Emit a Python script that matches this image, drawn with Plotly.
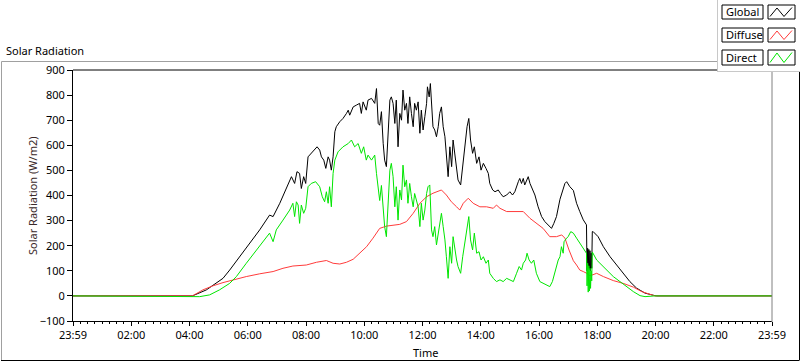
import plotly.graph_objects as go

# ---------------- data (hours of day, W/m2) ----------------
global_t = [0, 4.10, 4.58, 5.15, 5.38, 5.95, 6.41, 6.75, 6.87, 7.10, 7.33, 7.50, 7.61, 7.69, 7.78, 7.84,
            7.92, 7.99, 8.07, 8.18, 8.30, 8.38, 8.47, 8.53, 8.61, 8.68, 8.76, 8.81, 8.87, 8.93, 8.99,
            9.04, 9.16, 9.27, 9.39, 9.45, 9.50, 9.62, 9.73, 9.84, 9.90, 9.96, 10.07, 10.13, 10.25,
            10.36, 10.42, 10.48, 10.53, 10.59, 10.65, 10.70, 10.76, 10.82, 10.88, 10.93, 10.99,
            11.05, 11.10, 11.16, 11.22, 11.28, 11.33, 11.39, 11.45, 11.50, 11.56, 11.62, 11.68,
            11.73, 11.79, 11.85, 11.91, 11.96, 12.02, 12.08, 12.14, 12.17, 12.23, 12.27, 12.31,
            12.36, 12.42, 12.48, 12.54, 12.59, 12.65, 12.71, 12.77, 12.82, 12.88, 12.94, 13.00,
            13.05, 13.11, 13.17, 13.22, 13.31, 13.38, 13.45, 13.53, 13.59, 13.65, 13.72, 13.78,
            13.86, 13.94, 14.01, 14.09, 14.18, 14.26, 14.31, 14.41, 14.49, 14.60, 14.68, 14.77,
            14.89, 15.00, 15.09, 15.17, 15.29, 15.34, 15.40, 15.46, 15.51, 15.57, 15.63, 15.69,
            15.78, 15.86, 15.97, 16.09, 16.20, 16.32, 16.43, 16.51, 16.60, 16.72, 16.81, 16.89,
            16.95, 17.06, 17.18, 17.29, 17.40, 17.52, 17.63, 17.65, 17.67, 17.69, 17.71, 17.73,
            17.75, 17.77, 17.79, 17.81, 17.83, 17.86, 18.03, 18.21, 18.44, 18.67, 18.89, 19.12,
            19.35, 19.64, 19.98, 20.05, 24]
global_v = [0, 0, 24, 70, 103, 190, 263, 322, 316, 369, 428, 475, 448, 495, 488, 428,
            475, 448, 554, 568, 581, 594, 581, 554, 541, 508, 554, 541, 501, 554, 654,
            674, 694, 707, 727, 740, 720, 753, 760, 767, 727, 773, 740, 780, 787,
            767, 826, 687, 680, 734, 608, 541, 515, 674, 780, 793, 767,
            687, 780, 594, 727, 700, 820, 740, 767, 687, 793, 727, 674,
            767, 740, 773, 648, 740, 661, 714, 767, 833, 793, 846, 767,
            674, 661, 634, 674, 727, 753, 674, 634, 541, 475, 594, 515,
            621, 568, 501, 462, 442, 515, 594, 674, 707, 621, 568, 594,
            528, 554, 501, 528, 508, 488, 448, 422, 415, 422, 408, 395,
            402, 415, 402, 415, 455, 468, 448, 468, 442, 462, 475, 448,
            422, 402, 355, 316, 296, 283, 269, 289, 316, 385, 422, 448,
            455, 435, 420, 369, 336, 303, 283, 100, 190, 110, 185, 105,
            180, 100, 170, 110, 256, 256, 236, 196, 156, 123, 90, 57,
            31, 11, 1, 0, 0]

diffuse_t = [0, 4.10, 4.46, 4.80, 5.15, 5.49, 5.95, 6.41, 6.87, 7.21, 7.55, 8.01, 8.36, 8.70, 8.93,
             9.16, 9.39, 9.62, 9.84, 10.08, 10.30, 10.53, 10.76, 10.99, 11.22, 11.45, 11.68, 11.91,
             12.14, 12.36, 12.65, 12.82, 12.99, 13.17, 13.28, 13.40, 13.57, 13.74, 13.97, 14.20,
             14.43, 14.54, 14.66, 14.89, 15.23, 15.46, 15.69, 15.92, 16.14, 16.37, 16.60, 16.78,
             16.89, 17.03, 17.18, 17.29, 17.40, 17.52, 17.64, 17.75, 17.86, 17.98, 18.21, 18.55,
             18.89, 19.24, 19.53, 19.75, 19.98, 24]
diffuse_v = [0, 0, 24, 40, 53, 64, 77, 88, 97, 110, 119, 123, 134, 141, 130,
             127, 134, 146, 170, 196, 230, 269, 278, 283, 285, 296, 329, 369,
             395, 409, 422, 402, 375, 355, 342, 369, 389, 369, 355, 355,
             349, 362, 349, 336, 336, 336, 309, 289, 269, 236, 236, 243,
             230, 183, 140, 123, 103, 97, 90, 80, 84, 90, 77, 61,
             50, 35, 17, 8, 0, 0]

direct_t = [0, 4.10, 4.35, 4.69, 5.03, 5.38, 5.61, 5.95, 6.30, 6.64, 6.75, 6.87, 6.98, 7.21, 7.44,
            7.55, 7.61, 7.67, 7.73, 7.78, 7.84, 7.92, 7.99, 8.07, 8.18, 8.33, 8.41, 8.47, 8.56,
            8.64, 8.70, 8.76, 8.81, 8.87, 8.93, 8.99, 9.10, 9.27, 9.45, 9.56, 9.67, 9.79, 9.90,
            9.98, 10.07, 10.13, 10.25, 10.36, 10.42, 10.48, 10.53, 10.59, 10.65, 10.70, 10.76,
            10.82, 10.88, 10.93, 10.99, 11.05, 11.10, 11.16, 11.22, 11.28, 11.33, 11.39, 11.45,
            11.50, 11.56, 11.62, 11.68, 11.73, 11.79, 11.85, 11.91, 11.96, 12.02, 12.08, 12.14,
            12.19, 12.25, 12.31, 12.36, 12.42, 12.48, 12.54, 12.59, 12.65, 12.71, 12.77, 12.82,
            12.88, 12.94, 13.00, 13.05, 13.11, 13.17, 13.22, 13.31, 13.38, 13.45, 13.53, 13.59,
            13.65, 13.72, 13.78, 13.86, 13.94, 14.01, 14.09, 14.18, 14.26, 14.31, 14.43, 14.54,
            14.66, 14.77, 14.89, 15.00, 15.12, 15.23, 15.32, 15.40, 15.46, 15.54, 15.59, 15.66,
            15.74, 15.82, 15.91, 16.03, 16.14, 16.26, 16.37, 16.46, 16.54, 16.66, 16.72, 16.77,
            16.83, 16.86, 16.95, 17.00, 17.09, 17.18, 17.29, 17.46, 17.60, 17.63, 17.65, 17.67,
            17.69, 17.71, 17.73, 17.75, 17.77, 17.79, 17.81, 17.83, 17.98, 18.15, 18.32, 18.55,
            18.78, 19.01, 19.24, 19.47, 19.64, 19.98, 24]
direct_v = [0, 0, -3, 4, 24, 50, 77, 130, 183, 230, 250, 216, 263, 302, 342,
            369, 316, 375, 362, 289, 362, 329, 349, 435, 448, 455, 442, 435, 395,
            375, 415, 369, 435, 355, 488, 541, 574, 594, 607, 621, 594, 607, 568,
            594, 541, 561, 541, 561, 488, 435, 380, 440, 342, 276, 236,
            382, 501, 528, 475, 355, 435, 302, 422, 382, 521, 435, 462,
            369, 448, 395, 355, 408, 382, 355, 276, 369, 302, 342, 408,
            435, 442, 263, 236, 276, 203, 250, 302, 329, 276, 223, 156,
            70, 196, 130, 236, 183, 143, 117, 90, 156, 210, 263, 316,
            223, 183, 250, 170, 176, 143, 156, 130, 143, 90, 70, 57,
            64, 57, 70, 64, 57, 90, 117, 103, 130, 143, 170, 143,
            130, 143, 90, 57, 50, 44, 37, 57, 90, 143, 156, 196,
            170, 216, 230, 236, 256, 250, 230, 200, 178, 170, 40, 130,
            15, 120, 20, 110, 30, 100, 60, 175, 143, 123, 103, 77,
            57, 37, 17, 1, -3, 0, 0]

tick_hours = [0, 2, 4, 6, 8, 10, 12, 14, 16, 18, 20, 22, 24]
tick_text = ["23:59", "02:00", "04:00", "06:00", "08:00", "10:00", "12:00",
             "14:00", "16:00", "18:00", "20:00", "22:00", "23:59"]
series_names = ["Global", "Diffuse", "Direct"]
series_colors = ["#000000", "#FF3B3B", "#00E600"]

FONT = "Noto Sans"
FS = 11

# ---------------- figure ----------------
W, H = 800, 361
L, R, T, B = 73, 772, 70, 321   # plot-area pixel box


def px(x):
    return (x - L) / (R - L)


def py(y):
    return (B - y) / (B - T)


fig = go.Figure()
for name, tt, vv, col in zip(series_names, [global_t, diffuse_t, direct_t],
                             [global_v, diffuse_v, direct_v], series_colors):
    fig.add_trace(go.Scatter(x=tt, y=vv, mode="lines", name=name,
                             line=dict(color=col, width=1), hoverinfo="skip"))

shapes = []


def line(x0, y0, x1, y1, color, width=1):
    shapes.append(dict(type="line", xref="paper", yref="paper",
                       x0=px(x0), y0=py(y0), x1=px(x1), y1=py(y1),
                       line=dict(color=color, width=width), layer="above"))


def rect(x0, y0, x1, y1, fill, border, width=1):
    shapes.append(dict(type="rect", xref="paper", yref="paper",
                       x0=px(x0), y0=py(y0), x1=px(x1), y1=py(y1),
                       fillcolor=fill, line=dict(color=border, width=width), layer="above"))


# outer frame
line(1.5, 61.5, 717, 61.5, "#A0A0A0")
line(1.5, 61.5, 1.5, 360.5, "#A0A0A0")
line(1, 360.5, 799, 360.5, "#000000")
line(799.5, 72, 799.5, 360.5, "#000000")
# plot area top & right borders
line(L, T, 717, T, "#000000")
line(R, T + 2, R, B + 1, "#808080")

# legend panel
rect(717, -2, 802, 72, "white", "rgba(0,0,0,0)", 0)
line(717.5, -2, 717.5, 72, "#C8C8C8")
line(717.5, 71.5, 802, 71.5, "#C8C8C8")

annotations = []
rows = [(5, 19), (28, 42), (50, 65)]
for (ty, by), name, col in zip(rows, series_names, series_colors):
    rect(722, ty, 763, by, "white", "#000000")
    rect(768, ty, 795, by, "white", "#000000")
    pts = [(770, by - 2.5), (777, ty + 3), (784, by - 2.5), (792, ty + 2.5)]
    path = "M " + " L ".join(f"{px(a):.5f},{py(b):.5f}" for a, b in pts)
    shapes.append(dict(type="path", xref="paper", yref="paper", path=path,
                       line=dict(color=col, width=1), layer="above"))
    annotations.append(dict(text=name, xref="paper", yref="paper", x=px(724), y=py((ty + by) / 2),
                            xanchor="left", yanchor="middle", showarrow=False,
                            font=dict(family=FONT, size=FS, color="black")))

annotations += [
    dict(text="Solar Radiation", xref="paper", yref="paper", x=px(4), y=py(50),
         xanchor="left", yanchor="middle", showarrow=False,
         font=dict(family=FONT, size=FS, color="black")),
    dict(text="Solar Radiation (W/m2)", xref="paper", yref="paper", x=px(32), y=py(196),
         xanchor="center", yanchor="middle", textangle=-90, showarrow=False,
         font=dict(family=FONT, size=FS, color="#3a2a2a")),
    dict(text="Time", xref="paper", yref="paper", x=px(425), y=py(352),
         xanchor="center", yanchor="middle", showarrow=False,
         font=dict(family=FONT, size=FS, color="black")),
]

fig.update_layout(
    width=W, height=H,
    margin=dict(l=L, r=W - R, t=T, b=H - B, pad=0),
    paper_bgcolor="white", plot_bgcolor="white",
    showlegend=False,
    font=dict(family=FONT, size=FS, color="black"),
    shapes=shapes, annotations=annotations,
    xaxis=dict(range=[0, 24], tickmode="array", tickvals=tick_hours, ticktext=tick_text,
               ticks="outside", ticklen=4, tickwidth=1, tickcolor="black",
               showline=True, linecolor="black", linewidth=1,
               showgrid=False, zeroline=False, fixedrange=True,
               tickfont=dict(family=FONT, size=FS, color="black"),
               minor=dict(tickmode="linear", tick0=0, dtick=0.25, ticks="outside",
                          ticklen=2, tickcolor="black", showgrid=False)),
    yaxis=dict(range=[-100, 900], tickmode="linear", tick0=-100, dtick=100,
               ticks="outside", ticklen=5, tickwidth=1, tickcolor="black",
               showline=True, linecolor="black", linewidth=1,
               showgrid=False, zeroline=False, fixedrange=True,
               tickfont=dict(family=FONT, size=FS, color="black")),
)

fig.write_html("out.html", config={"displayModeBar": False},
               post_script="document.body.style.margin='0';document.body.style.padding='0';"
                           "document.body.style.overflow='hidden';")
